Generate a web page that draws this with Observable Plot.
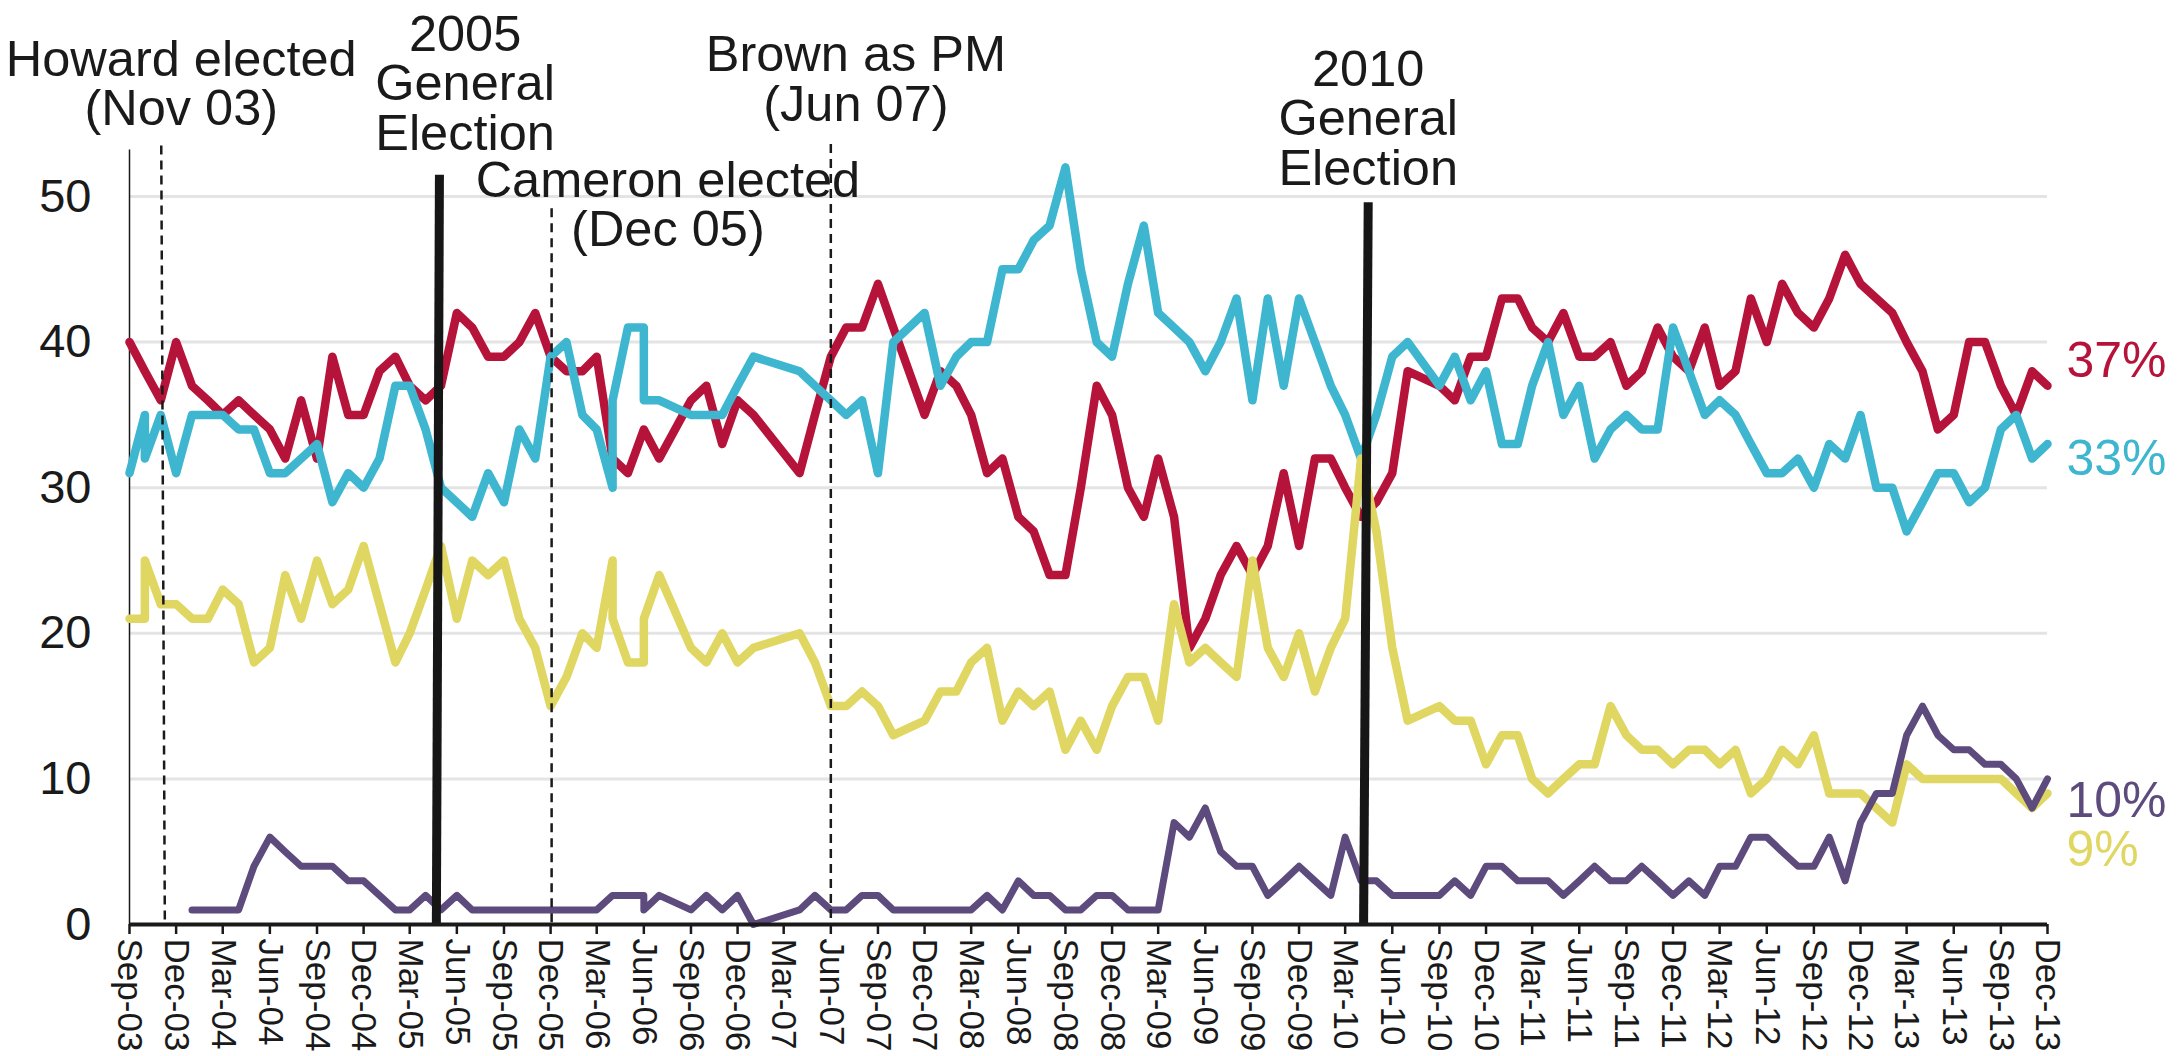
<!DOCTYPE html>
<html>
<head>
<meta charset="utf-8">
<script src="https://cdn.jsdelivr.net/npm/d3@7"></script>
<script src="https://cdn.jsdelivr.net/npm/@observablehq/plot@0.6"></script>
<style>
html, body { margin: 0; padding: 0; background: #ffffff; }
#chart svg { display: block; }
</style>
</head>
<body>
<div id="chart"></div>
<script>
// ---- Data ----
const months = [
  "2003-09","2003-10","2003-10","2003-11","2003-12",
  "2004-01","2004-02","2004-03","2004-04","2004-05","2004-06","2004-07","2004-08","2004-09","2004-10","2004-11","2004-12",
  "2005-01","2005-02","2005-03","2005-04","2005-05","2005-06","2005-07","2005-08","2005-09","2005-10","2005-11","2005-12",
  "2006-01","2006-02","2006-03","2006-04","2006-04","2006-05","2006-06","2006-06","2006-07","2006-09","2006-10","2006-11","2006-12",
  "2007-01","2007-04","2007-05","2007-06","2007-07","2007-08","2007-09","2007-10","2007-12",
  "2008-01","2008-02","2008-03","2008-04","2008-05","2008-06","2008-07","2008-08","2008-09","2008-10","2008-11","2008-12",
  "2009-01","2009-02","2009-03","2009-04","2009-05","2009-06","2009-07","2009-08","2009-09","2009-10","2009-11","2009-12",
  "2010-01","2010-02","2010-03","2010-04","2010-05","2010-06","2010-07","2010-09","2010-10","2010-11","2010-12",
  "2011-01","2011-02","2011-03","2011-04","2011-05","2011-06","2011-07","2011-08","2011-09","2011-10","2011-11","2011-12",
  "2012-01","2012-02","2012-03","2012-04","2012-05","2012-06","2012-07","2012-08","2012-09","2012-10","2012-11","2012-12",
  "2013-01","2013-02","2013-03","2013-04","2013-05","2013-06","2013-07","2013-08","2013-09","2013-10","2013-11","2013-12"
];

const labour = [
  40,38,38,36,40,
  37,36,35,36,35,34,32,36,32,39,35,35,
  38,39,37,36,37,42,41,39,39,40,42,39,
  38,38,39,32,32,31,34,34,32,36,37,33,36,
  35,31,35,39,41,41,44,41,35,
  38,37,35,31,32,28,27,24,24,30,37,35,
  30,28,32,28,19,21,24,26,24,26,31,26,
  32,32,30,28,29,31,38,37,36,39,39,
  43,43,41,40,42,39,39,40,37,38,41,39,
  38,41,37,38,43,40,44,42,41,43,46,44,
  43,42,40,38,34,35,40,40,37,35,38,37
];

const conservative = [
  31,35,32,35,31,
  35,35,35,34,34,31,31,32,33,29,31,30,
  32,37,37,34,30,29,28,31,29,34,32,39,
  40,35,34,30,36,41,41,36,36,35,35,35,37,
  39,38,37,36,35,36,31,40,42,
  37,39,40,40,45,45,47,48,52,45,40,39,
  44,48,42,41,40,38,40,43,36,43,37,43,
  40,37,35,32,35,39,40,37,39,36,38,
  33,33,37,40,35,37,32,34,35,34,34,41,
  38,35,36,35,33,31,31,32,30,33,32,35,
  30,30,27,29,31,31,29,30,34,35,32,33
];

const libdem = [
  21,21,25,22,22,
  21,21,23,22,18,19,24,21,25,22,23,26,
  22,18,20,23,26,21,25,24,25,21,19,15,
  17,20,19,25,21,18,18,21,24,19,18,20,18,
  19,20,18,15,15,16,15,13,14,
  16,16,18,19,14,16,15,16,12,14,12,15,
  17,17,14,22,18,19,18,17,25,19,17,20,
  16,19,21,32,27,19,14,15,14,14,11,
  13,13,10,9,10,11,11,15,13,12,12,11,
  12,12,11,12,9,10,12,11,13,9,9,9,
  8,7,11,10,10,10,10,10,10,9,8,9
];

const ukip = [
  null,null,null,null,null,
  1,1,1,1,4,6,5,4,4,4,3,3,
  2,1,1,2,1,2,1,1,1,1,1,1,
  1,1,1,2,2,2,2,1,2,1,2,1,2,
  0,1,2,1,1,2,2,1,1,
  1,1,1,2,1,3,2,2,1,1,2,2,
  1,1,1,7,6,8,5,4,4,2,3,4,
  3,2,6,3,3,2,2,2,3,2,4,
  4,3,3,3,2,3,4,3,3,4,3,2,
  3,2,4,4,6,6,5,4,4,6,3,7,
  9,9,13,15,13,12,12,11,11,10,8,10
];

const xTickLabels = [
  "Sep-03","Dec-03","Mar-04","Jun-04","Sep-04","Dec-04","Mar-05","Jun-05","Sep-05","Dec-05",
  "Mar-06","Jun-06","Sep-06","Dec-06","Mar-07","Jun-07","Sep-07","Dec-07","Mar-08","Jun-08",
  "Sep-08","Dec-08","Mar-09","Jun-09","Sep-09","Dec-09","Mar-10","Jun-10","Sep-10","Dec-10",
  "Mar-11","Jun-11","Sep-11","Dec-11","Mar-12","Jun-12","Sep-12","Dec-12","Mar-13","Jun-13",
  "Sep-13","Dec-13"
];
const yTicks = [0, 10, 20, 30, 40, 50];

// Event markers (dashed) and general elections (solid)
const eventTop = ["2003-11-02", "2005-12-03", "2007-06-01"];
const eventBottom = ["2003-11-09", "2005-12-03", "2007-06-01"];
const eventTopValue = [53.5, 49.2, 53.6];
const electionTop = ["2005-04-28", "2010-04-15"];
const electionBottom = ["2005-04-22", "2010-04-06"];
const electionTopValue = [51.5, 49.6];

// Annotation texts
const annotationText = [
  "Howard elected\n(Nov 03)",
  "2005\nGeneral\nElection",
  "Cameron elected\n(Dec 05)",
  "Brown as PM\n(Jun 07)",
  "2010\nGeneral\nElection"
];
const annotationDate = ["2003-12-11", "2005-06-17", "2006-07-18", "2007-07-20", "2010-04-15"];
const annotationValue = [54.9, 53.2, 46.6, 55.2, 50.8];

// End-of-line labels
const endLabelText = ["37%", "33%", "10%", "9%"];
const endLabelValue = [38.7, 32.0, 8.5, 5.1];

// ---- Build tables ----
const parseMonth = d3.utcParse("%Y-%m");
const parseDay = d3.utcParse("%Y-%m-%d");
const parseTick = d3.utcParse("%b-%y");

const colors = {
  lab: "#B6133A",
  con: "#3EB6D0",
  ld: "#E0D662",
  ukip: "#5E4B7D"
};

function series(values) {
  const out = [];
  months.forEach((m, i) => {
    if (values[i] != null) out.push({date: parseMonth(m), value: values[i]});
  });
  return out;
}

const labRows = series(labour);
const conRows = series(conservative);
const ldRows = series(libdem);
const ukipRows = series(ukip);

const xTicks = xTickLabels.map(parseTick);
const xStart = parseMonth(months[0]);
const xEnd = parseMonth(months[months.length - 1]);

const eventLines = eventTop.map((d, i) => ({x1: parseDay(d), x2: parseDay(eventBottom[i]), y1: eventTopValue[i], y2: 0}));
const electionLines = electionTop.map((d, i) => ({x1: parseDay(d), x2: parseDay(electionBottom[i]), y1: electionTopValue[i], y2: 0}));
const annotations = annotationText.map((t, i) => ({text: t, date: parseDay(annotationDate[i]), value: annotationValue[i]}));
const endColors = [colors.lab, colors.con, colors.ukip, colors.ld];
const endLabels = endLabelText.map((t, i) => ({text: t, date: xEnd, value: endLabelValue[i], color: endColors[i]}));

const lineStyle = {x: "date", y: "value", strokeLinejoin: "round", strokeLinecap: "round"};

const chart = Plot.plot({
  width: 2178,
  height: 1056,
  marginLeft: 129,
  marginRight: 131,
  marginTop: 196,
  marginBottom: 132,
  x: {type: "utc", domain: [xStart, xEnd]},
  y: {domain: [0, 50]},
  style: {
    fontFamily: "'Liberation Sans', Arial, Helvetica, sans-serif",
    color: "#1a1a1a",
    background: "#ffffff",
    overflow: "visible"
  },
  marks: [
    Plot.gridY(yTicks, {stroke: "#e4e4e4", strokeOpacity: 1, strokeWidth: 3}),
    Plot.axisY(yTicks, {tickSize: 0, tickPadding: 38, fontSize: 47, label: null}),
    Plot.ruleX([xStart], {y1: 0, y2: 53.2, stroke: "#1a1a1a", strokeWidth: 1.5}),
    Plot.line(labRows, {...lineStyle, stroke: colors.lab, strokeWidth: 8.5}),
    Plot.line(conRows, {...lineStyle, stroke: colors.con, strokeWidth: 8.5}),
    Plot.line(ldRows, {...lineStyle, stroke: colors.ld, strokeWidth: 8.5}),
    Plot.line(ukipRows, {...lineStyle, stroke: colors.ukip, strokeWidth: 7}),
    Plot.link(eventLines, {x1: "x1", x2: "x2", y1: "y1", y2: "y2", stroke: "#1a1a1a", strokeWidth: 2.5, strokeDasharray: "9,6"}),
    Plot.link(electionLines, {x1: "x1", x2: "x2", y1: "y1", y2: "y2", stroke: "#161616", strokeWidth: 9}),
    Plot.ruleY([0], {stroke: "#1a1a1a", strokeWidth: 4}),
    Plot.axisX(xTicks, {
      tickFormat: d3.utcFormat("%b-%y"),
      tickRotate: 90,
      tickSize: 10,
      tickPadding: 4,
      fontSize: 35,
      strokeWidth: 2.5,
      label: null
    }),
    Plot.text(annotations, {
      x: "date", y: "value", text: "text",
      lineAnchor: "bottom", lineHeight: 0.98,
      fontSize: 50.5, fill: "#1a1a1a"
    }),
    Plot.text(endLabels, {
      x: "date", y: "value", text: "text", fill: "color",
      dx: 19, textAnchor: "start", fontSize: 50
    })
  ]
});

document.getElementById("chart").appendChild(chart);
</script>
</body>
</html>
